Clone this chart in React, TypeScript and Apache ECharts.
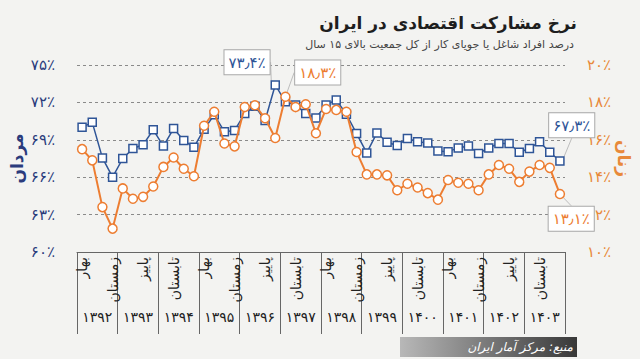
import React, { useEffect, useRef } from 'react';
import * as echarts from 'echarts';

const seasons = ['بهار', 'تابستان', 'پاییز', 'زمستان'];
const years = ['۱۳۹۲', '۱۳۹۳', '۱۳۹۴', '۱۳۹۵', '۱۳۹۶', '۱۳۹۷', '۱۳۹۸', '۱۳۹۹', '۱۴۰۰', '۱۴۰۱', '۱۴۰۲', '۱۴۰۳'];

// Men participation rate (%) by quarter, spring 1392 .. winter 1403
const men = [
  70.0, 70.4, 67.55, 66.0, 67.5, 68.3, 68.6, 69.8, 68.5, 69.9, 68.95, 68.4,
  69.85, 71.0, 69.65, 69.75, 71.1, 71.7, 70.55, 73.4, 72.05, 71.8, 71.1, 70.75,
  71.8, 72.2, 71.05, 69.5, 67.95, 69.55, 68.8, 68.55, 69.1, 68.85, 68.75, 68.1,
  68.05, 68.35, 68.5, 67.9, 68.35, 68.7, 68.7, 68.0, 68.3, 68.85, 68.0, 67.3,
];
// Women participation rate (%)
const women = [
  15.5, 14.9, 12.4, 11.25, 13.4, 12.85, 12.95, 13.5, 14.55, 15.05, 14.45, 14.05,
  16.75, 17.5, 15.8, 15.65, 17.75, 17.85, 17.15, 16.1, 18.3, 17.75, 17.9, 16.35,
  17.65, 17.6, 17.5, 15.35, 14.15, 14.15, 14.1, 13.3, 13.65, 13.45, 13.15, 12.8,
  13.85, 13.7, 13.65, 13.3, 14.15, 14.65, 14.45, 13.75, 14.3, 14.65, 14.5, 13.1,
];

const menAnnotated = [19, 47];
const womenAnnotated = [20, 47];

const title = 'نرخ مشارکت اقتصادی در ایران';
const subtitle = 'درصد افراد شاغل یا جویای کار از کل جمعیت بالای ۱۵ سال';
const source = 'منبع: مرکز آمار ایران';

const categories = years.flatMap((y) => seasons.map((s) => s + '|' + y));

const faDigits = '۰۱۲۳۴۵۶۷۸۹';
const toFa = (n: number | string) =>
  String(n).replace(/[0-9]/g, (d) => faDigits[+d]).replace('.', '٫');

const BLUE = '#2f5597';
const ORANGE = '#ed7d31';
const NAVY = '#2a3b7c';
const FONT = 'DejaVu Sans';

export default function App() {
  const ref = useRef<HTMLDivElement>(null);
  useEffect(() => {
    if (!ref.current) return;
    const chart = echarts.init(ref.current, undefined, { renderer: 'svg' });

    const positions: Record<string, [number, number]> = {
      '0-19': [-46, -30],
      '0-47': [-6, -43],
      '1-20': [15, -31],
      '1-47': [-6, 18],
    };

    const annotLabel = (color: string, key: string) => ({
      show: true,
      position: positions[key],
      formatter: (p: any) => toFa(p.value) + '٪',
      color,
      fontSize: 15,
      fontFamily: FONT,
      backgroundColor: '#ffffff',
      borderColor: '#a8a8a8',
      borderWidth: 1,
      padding: [5, 4, 4, 4],
    });

    chart.setOption({
      animation: false,
      textStyle: { fontFamily: FONT },
      grid: { left: 70, right: 64, top: 65, bottom: 107 },
      graphic: [
        {
          type: 'text',
          x: 577,
          y: 23,
          style: {
            text: title,
            fontSize: 17,
            fontWeight: 'bold',
            fontFamily: FONT,
            fill: '#1e1e1e',
            textAlign: 'right',
            textVerticalAlign: 'middle',
          },
        },
        {
          type: 'text',
          x: 574,
          y: 44,
          style: {
            text: subtitle,
            fontSize: 11,
            fontFamily: FONT,
            fill: '#444',
            textAlign: 'right',
            textVerticalAlign: 'middle',
          },
        },
        {
          type: 'rect',
          shape: { x: 400, y: 337, width: 177, height: 20 },
          style: {
            fill: new echarts.graphic.LinearGradient(0, 0, 1, 0, [
              { offset: 0, color: '#b8b8b8' },
              { offset: 1, color: '#383838' },
            ]),
          },
        },
        {
          type: 'text',
          x: 573,
          y: 347,
          style: {
            text: source,
            fontSize: 12,
            fontStyle: 'italic',
            fontFamily: FONT,
            fill: '#ffffff',
            textAlign: 'right',
            textVerticalAlign: 'middle',
          },
        },
      ],
      xAxis: [
        {
          type: 'category',
          data: categories,
          boundaryGap: true,
          axisLine: { show: true, lineStyle: { color: '#666', width: 1 } },
          axisTick: { show: false },
          axisLabel: {
            interval: 2,
            rotate: 90,
            margin: 5,
            fontSize: 14,
            color: '#222',
            formatter: (v: string) => v.split('|')[0],
          },
          splitLine: { show: false },
        },
        {
          type: 'category',
          data: years,
          position: 'bottom',
          boundaryGap: true,
          axisLine: { show: false },
          axisTick: { show: true, length: 82, lineStyle: { color: '#666', width: 1 } },
          axisLabel: { interval: 0, margin: 58, fontSize: 14, color: '#222' },
          splitLine: { show: false },
        },
      ],
      yAxis: [
        {
          type: 'value',
          position: 'left',
          min: 60,
          max: 75,
          interval: 3,
          axisLine: { show: false },
          axisTick: { show: false },
          splitLine: { show: true, lineStyle: { type: [3, 3], color: '#8a8a8a', width: 1 } },
          axisLabel: {
            formatter: (v: number) => toFa(v) + '٪',
            color: NAVY,
            fontSize: 15,
            align: 'right',
            margin: 22,
          },
          name: 'مردان',
          nameLocation: 'middle',
          nameGap: 52,
          nameRotate: 90,
          nameMoveOverlap: false,
          nameTextStyle: { color: NAVY, fontSize: 17, fontWeight: 'bold' },
        },
        {
          type: 'value',
          position: 'right',
          min: 10,
          max: 20,
          interval: 2,
          axisLine: { show: false },
          axisTick: { show: false },
          splitLine: { show: false },
          axisLabel: {
            formatter: (v: number) => toFa(v) + '٪',
            color: '#e8893a',
            fontSize: 15,
            align: 'left',
            margin: 22,
          },
          name: 'زنان',
          nameLocation: 'middle',
          nameGap: 50,
          nameRotate: -90,
          nameMoveOverlap: false,
          nameTextStyle: { color: '#e8893a', fontSize: 17, fontWeight: 'bold' },
        },
      ],
      series: [
        {
          type: 'line',
          yAxisIndex: 0,
          data: men.map((v, i) =>
            menAnnotated.includes(i) ? { value: v, label: annotLabel(BLUE, '0-' + i) } : v
          ),
          symbol: 'rect',
          symbolSize: 8,
          showAllSymbol: true,
          lineStyle: { color: BLUE, width: 1.5 },
          itemStyle: { color: '#ffffff', borderColor: BLUE, borderWidth: 1.5 },
          labelLine: { show: true, lineStyle: { color: '#bdbdbd', width: 1 } },
          z: 2,
        },
        {
          type: 'line',
          yAxisIndex: 1,
          data: women.map((v, i) =>
            womenAnnotated.includes(i) ? { value: v, label: annotLabel(ORANGE, '1-' + i) } : v
          ),
          symbol: 'circle',
          symbolSize: 9,
          showAllSymbol: true,
          lineStyle: { color: ORANGE, width: 2 },
          itemStyle: { color: '#ffffff', borderColor: ORANGE, borderWidth: 1.5 },
          labelLine: { show: true, lineStyle: { color: '#bdbdbd', width: 1 } },
          z: 3,
        },
      ],
    });
    return () => chart.dispose();
  }, []);

  return (
    <div
      style={{
        position: 'fixed',
        left: 0,
        top: 0,
        width: 640,
        height: 359,
        background: '#f3f3f1',
      }}
    >
      <div ref={ref} style={{ width: 640, height: 359 }} />
    </div>
  );
}
